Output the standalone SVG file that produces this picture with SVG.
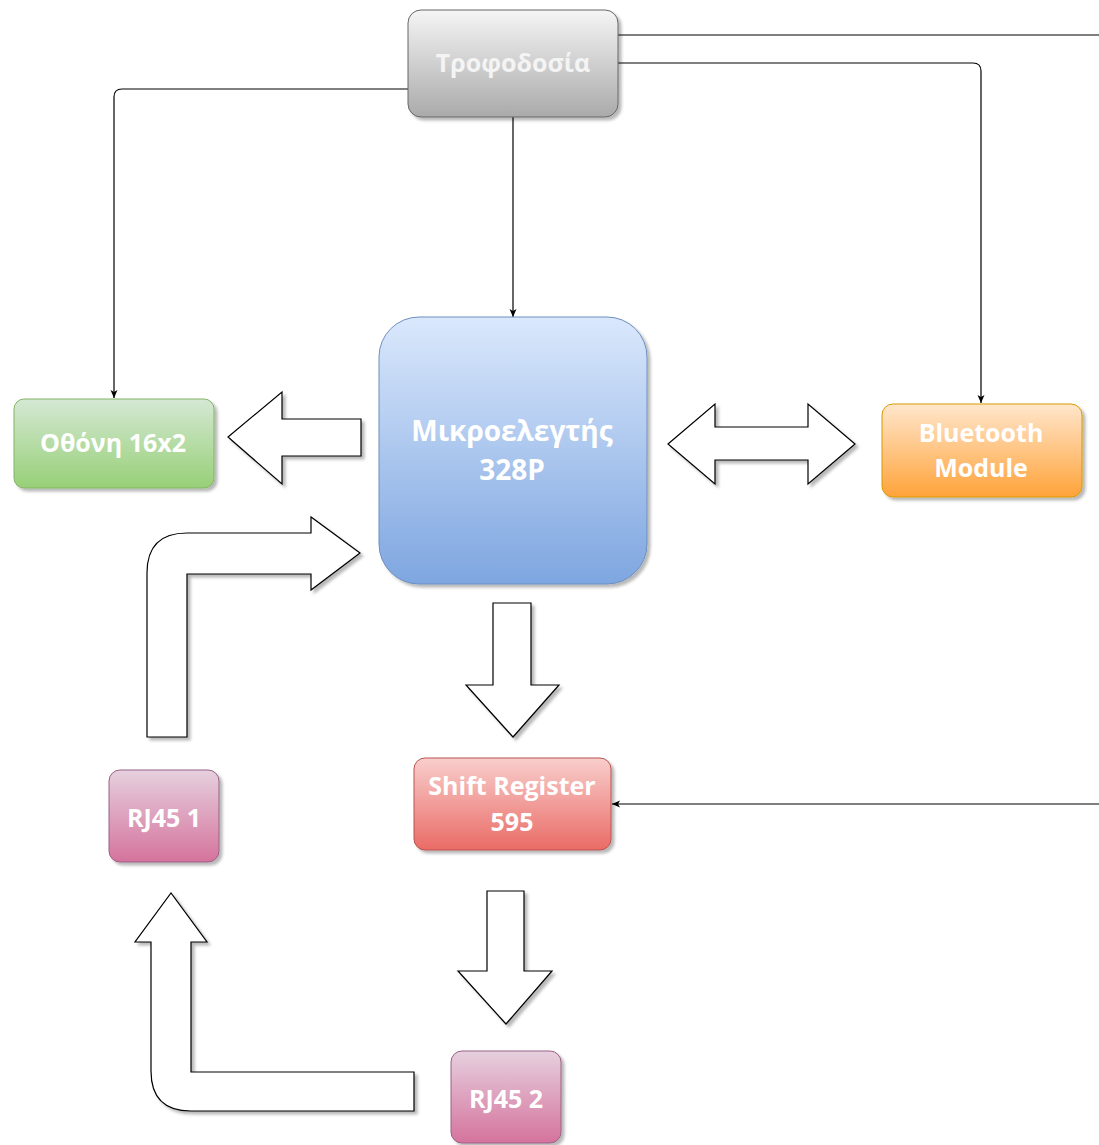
<svg xmlns="http://www.w3.org/2000/svg" width="1099" height="1145" viewBox="0 0 1099 1145">
  <style>
    .label { font-family: "Open Sans", "Noto Sans", "DejaVu Sans", sans-serif; font-weight: 700; fill: #ffffff; text-anchor: middle; }
    .node { stroke-width: 1; }
    .wire { fill: none; stroke: #000000; stroke-width: 1.2; }
    .block { fill: #ffffff; stroke: #000000; stroke-width: 1.2; stroke-linejoin: miter; filter: url(#shadow); }
  </style>
  <defs>
    <filter id="shadow" x="-20%" y="-20%" width="140%" height="140%">
      <feDropShadow dx="3" dy="3" stdDeviation="1.8" flood-color="#000000" flood-opacity="0.28"/>
    </filter>
    <linearGradient id="gGray" x1="0" y1="0" x2="0" y2="1">
      <stop offset="0" stop-color="#f5f5f5"/>
      <stop offset="1" stop-color="#aaaaaa"/>
    </linearGradient>
    <linearGradient id="gGreen" x1="0" y1="0" x2="0" y2="1">
      <stop offset="0" stop-color="#d5e8d4"/>
      <stop offset="1" stop-color="#97d077"/>
    </linearGradient>
    <linearGradient id="gBlue" x1="0" y1="0" x2="0" y2="1">
      <stop offset="0" stop-color="#dae8fc"/>
      <stop offset="1" stop-color="#7ea6e0"/>
    </linearGradient>
    <linearGradient id="gOrange" x1="0" y1="0" x2="0" y2="1">
      <stop offset="0" stop-color="#ffe6cc"/>
      <stop offset="1" stop-color="#ffa33a"/>
    </linearGradient>
    <linearGradient id="gRed" x1="0" y1="0" x2="0" y2="1">
      <stop offset="0" stop-color="#f8cecc"/>
      <stop offset="1" stop-color="#ea6b66"/>
    </linearGradient>
    <linearGradient id="gPink" x1="0" y1="0" x2="0" y2="1">
      <stop offset="0" stop-color="#e6d0de"/>
      <stop offset="1" stop-color="#d5739d"/>
    </linearGradient>
    <marker id="tip" viewBox="0 0 8 8" refX="8" refY="4" markerWidth="8" markerHeight="8" markerUnits="userSpaceOnUse" orient="auto">
      <path d="M0,0.5 L8,4 L0,7.5 L2,4 Z" fill="#000000"/>
    </marker>
  </defs>

  <!-- power supply wiring -->
  <g id="connectors">
    <path class="wire" d="M408,89 H122 Q114,89 114,97 V398" marker-end="url(#tip)"/>
    <path class="wire" d="M513,117 V317" marker-end="url(#tip)"/>
    <path class="wire" d="M618,63 H973 Q981,63 981,71 V403" marker-end="url(#tip)"/>
    <path class="wire" d="M618,35 H1100"/>
    <path class="wire" d="M1100,804 H612" marker-end="url(#tip)"/>

    <!-- data-flow block arrows -->
    <path class="block" d="M361,419 H282 V392 L228,437 L282,484 V456 H361 Z"/>
    <path class="block" d="M668,444 L715,404 V427 H808 V404 L855,444 L808,484 V460 H715 V484 Z"/>
    <path class="block" d="M147,737 V573 Q147,533 187,533 H311 V517 L360,553 L311,590 V574 H187 V737 Z"/>
    <path class="block" d="M493,603 H531 V685 H559 L513,737 L466,685 H493 Z"/>
    <path class="block" d="M487,891 H524 V971 H552 L506,1024 L458,971 H487 Z"/>
    <path class="block" d="M414,1111 H191 Q151,1111 151,1071 V942 H135 L171,893 L207,942 H191 V1072 H414 Z"/>
  </g>

  <g id="power">
    <rect class="node" x="408" y="10" width="210" height="107" rx="13" fill="url(#gGray)" stroke="#666666" filter="url(#shadow)"/>
    <text class="label" x="513" y="72" font-size="25" style="fill:#f4f4f4">Τροφοδοσία</text>
  </g>

  <g id="display">
    <rect class="node" x="14" y="399" width="200" height="89" rx="10" fill="url(#gGreen)" stroke="#82b366" filter="url(#shadow)"/>
    <text class="label" x="113" y="452" font-size="25">Οθόνη 16x2</text>
  </g>

  <g id="mcu">
    <rect class="node" x="379" y="317" width="268" height="267" rx="40" fill="url(#gBlue)" stroke="#6c8ebf" filter="url(#shadow)"/>
    <text class="label" x="512" y="441" font-size="28">Μικροελεγτής</text>
    <text class="label" x="512" y="480" font-size="28">328P</text>
  </g>

  <g id="bluetooth">
    <rect class="node" x="882" y="404" width="200" height="93" rx="11" fill="url(#gOrange)" stroke="#d79b00" filter="url(#shadow)"/>
    <text class="label" x="981" y="442" font-size="25">Bluetooth</text>
    <text class="label" x="981" y="477" font-size="25">Module</text>
  </g>

  <g id="shift-register">
    <rect class="node" x="414" y="758" width="197" height="92" rx="11" fill="url(#gRed)" stroke="#b85450" filter="url(#shadow)"/>
    <text class="label" x="512" y="795" font-size="25">Shift Register</text>
    <text class="label" x="512" y="831" font-size="25">595</text>
  </g>

  <g id="rj45-1">
    <rect class="node" x="109" y="770" width="110" height="92" rx="11" fill="url(#gPink)" stroke="#996185" filter="url(#shadow)"/>
    <text class="label" x="164" y="827" font-size="25">RJ45 1</text>
  </g>

  <g id="rj45-2">
    <rect class="node" x="451" y="1051" width="110" height="92" rx="11" fill="url(#gPink)" stroke="#996185" filter="url(#shadow)"/>
    <text class="label" x="506" y="1108" font-size="25">RJ45 2</text>
  </g>
</svg>
